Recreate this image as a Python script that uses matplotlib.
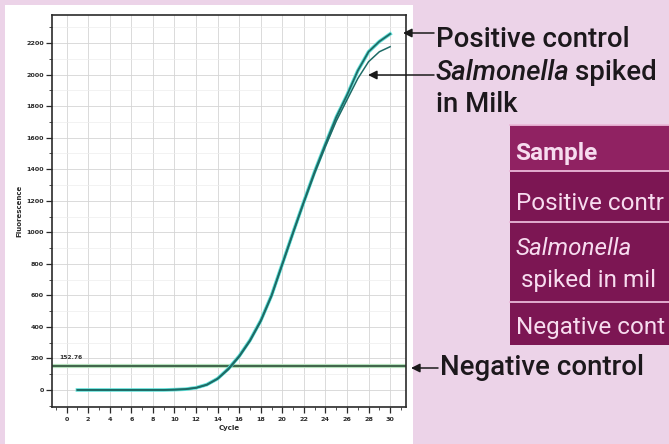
import matplotlib
matplotlib.use("Agg")
import matplotlib.pyplot as plt
from matplotlib.patches import Rectangle, FancyArrowPatch
from matplotlib.ticker import MultipleLocator

# ==============================
# DATA
# ==============================

cycles = list(range(1, 31))
positive_control = [0, 0, 0, 0, 0, 0, 0, 0, 0, 2, 5, 14, 34, 72, 135, 215, 315, 440,
                    600, 800, 1000, 1195, 1385, 1560, 1730, 1870, 2025, 2145, 2210, 2258]
salmonella_milk = [0, 0, 0, 0, 0, 0, 0, 0, 0, 2, 5, 13, 32, 70, 130, 210, 310, 435,
                   595, 795, 995, 1190, 1375, 1545, 1705, 1840, 1975, 2082, 2145, 2177]
threshold = 152.76

x_ticks = list(range(0, 31, 2))
y_ticks = list(range(0, 2201, 200))
x_tick_labels = [str(v) for v in x_ticks]
y_tick_labels = [str(v) for v in y_ticks]

# table is cut off by the right edge of the picture
table_header = "Sample"
table_rows = ["Positive contr", "spiked in mil", "Negative cont"]

# ==============================
# HELPERS (pixel -> figure fraction)
# ==============================

W, H = 669, 444


def fx(px):
    return px / W


def fy(py):
    return 1 - py / H


FONT = ["Roboto", "DejaVu Sans"]
PINK = "#ecd3e8"
DARK_TEAL = "#1e6b66"
CYAN = "#5fe0d8"
INK = "#1c181c"

fig = plt.figure(figsize=(6.69, 4.44), dpi=100, facecolor=PINK)
renderer = fig.canvas.get_renderer()

# white panel behind the chart
fig.patches.append(Rectangle((fx(5), 0), fx(413) - fx(5), fy(5),
                             transform=fig.transFigure, facecolor="white",
                             edgecolor="none", zorder=-1))

# ==============================
# AMPLIFICATION PLOT
# ==============================

ax = fig.add_axes([fx(52), fy(407), fx(406) - fx(52), fy(15) - fy(407)])
ax.set_facecolor("white")

ax.plot(cycles, positive_control, color=CYAN, lw=2.6, zorder=3)
ax.plot(cycles, positive_control, color=DARK_TEAL, lw=1.3, zorder=4)
ax.plot(cycles, salmonella_milk, color=DARK_TEAL, lw=1.1, zorder=4)

ax.axhline(threshold, color="#b5e0bb", lw=3.0, zorder=2)
ax.axhline(threshold, color="#2c4f38", lw=1.2, zorder=2.5)
ax.text(-0.7, threshold + 45, "152.76", fontsize=4.3, color="#333333",
        weight="bold")

ax.set_xlim(-1.36, 31.47)
ax.set_ylim(-108, 2378)
ax.set_xticks(x_ticks)
ax.set_xticklabels(x_tick_labels)
ax.set_yticks(y_ticks)
ax.set_yticklabels(y_tick_labels)
ax.yaxis.set_minor_locator(MultipleLocator(100))
ax.xaxis.set_minor_locator(MultipleLocator(1))

ax.grid(which="major", color="#d4d4d4", lw=0.6)
ax.grid(which="minor", axis="y", color="#ededed", lw=0.5)
ax.set_axisbelow(True)

ax.tick_params(axis="both", which="major", labelsize=4.6, length=4.5, width=0.9,
               colors="#2a2a2a")
ax.tick_params(axis="x", which="major", pad=3)
ax.tick_params(axis="y", which="major", pad=1.2)
ax.tick_params(axis="both", which="minor", length=2.2, width=0.6, colors="#333333")
for lbl in ax.get_xticklabels() + ax.get_yticklabels():
    lbl.set_fontweight("bold")
for s in ax.spines.values():
    s.set_linewidth(1.2)
    s.set_color("#2b2b2b")

ax.set_xlabel("Cycle", fontsize=5, labelpad=1.5, color="#2a2a2a", weight="bold")
ax.set_ylabel("Fluorescence", fontsize=5, labelpad=3, color="#2a2a2a", weight="bold")

# ==============================
# ARROWS + LABELS
# ==============================


def arrow(x0, x1, y):
    fig.patches.append(FancyArrowPatch((fx(x0), fy(y)), (fx(x1), fy(y)),
                                       transform=fig.transFigure,
                                       arrowstyle="-|>", mutation_scale=13,
                                       color="#1a1a1a", lw=1.1,
                                       shrinkA=0, shrinkB=0, zorder=5))


def fit_size(s, target_w, **kw):
    # font size that gives the measured width seen in the picture
    t = fig.text(0, 0, s, fontsize=20, **kw)
    w = t.get_window_extent(renderer=renderer).width
    t.remove()
    return 20 * target_w / w


arrow(434, 403, 33)
arrow(434, 368, 75)
arrow(438, 411, 368)

fs = fit_size("Positive control", 194, family=FONT, weight="medium")
fig.text(fx(436), fy(47), "Positive control", fontsize=fs, family=FONT,
         weight="medium", color=INK, va="baseline")
t_sal = fig.text(fx(436), fy(80), "Salmonella", fontsize=fs, family=FONT,
                 weight="medium", style="italic", color=INK, va="baseline")
fig.text(fx(436), fy(112), "in Milk", fontsize=fs, family=FONT,
         weight="medium", color=INK, va="baseline")
fig.text(fx(440), fy(375), "Negative control", fontsize=fs, family=FONT,
         weight="medium", color=INK, va="baseline")

bb = t_sal.get_window_extent(renderer=renderer)
fig.text((bb.x1 + 5) / W, fy(80), "spiked", fontsize=fs, family=FONT,
         weight="medium", color=INK, va="baseline")

# ==============================
# SAMPLE TABLE (cut off at right edge)
# ==============================

row_edges = [125, 171, 222, 302, 345]
row_colors = ["#902262", "#7c1653", "#7c1653", "#7c1653"]
for i, c in enumerate(row_colors):
    fig.patches.append(Rectangle((fx(510), fy(row_edges[i + 1])), fx(669) - fx(510),
                                 fy(row_edges[i]) - fy(row_edges[i + 1]),
                                 transform=fig.transFigure, facecolor=c,
                                 edgecolor="none", zorder=1))
for yy in row_edges[:-1]:
    fig.lines.append(plt.Line2D([fx(510), 1], [fy(yy), fy(yy)],
                                transform=fig.transFigure, color="#eab8d8",
                                lw=1.3, zorder=2))

tfs = fit_size(table_rows[0], 148, family=FONT)
tc = "#f7dcef"
fig.text(fx(515), fy(160), table_header, fontsize=tfs, family=FONT,
         weight="bold", color=tc, va="baseline", zorder=3)
fig.text(fx(516), fy(210), table_rows[0], fontsize=tfs, family=FONT,
         color=tc, va="baseline", zorder=3)
fig.text(fx(516), fy(255), "Salmonella", fontsize=tfs, family=FONT,
         style="italic", color=tc, va="baseline", zorder=3)
fig.text(fx(521), fy(287), table_rows[1], fontsize=tfs, family=FONT,
         color=tc, va="baseline", zorder=3)
fig.text(fx(516), fy(334), table_rows[2], fontsize=tfs, family=FONT,
         color=tc, va="baseline", zorder=3)

fig.savefig("out.png", dpi=100, facecolor=PINK)
